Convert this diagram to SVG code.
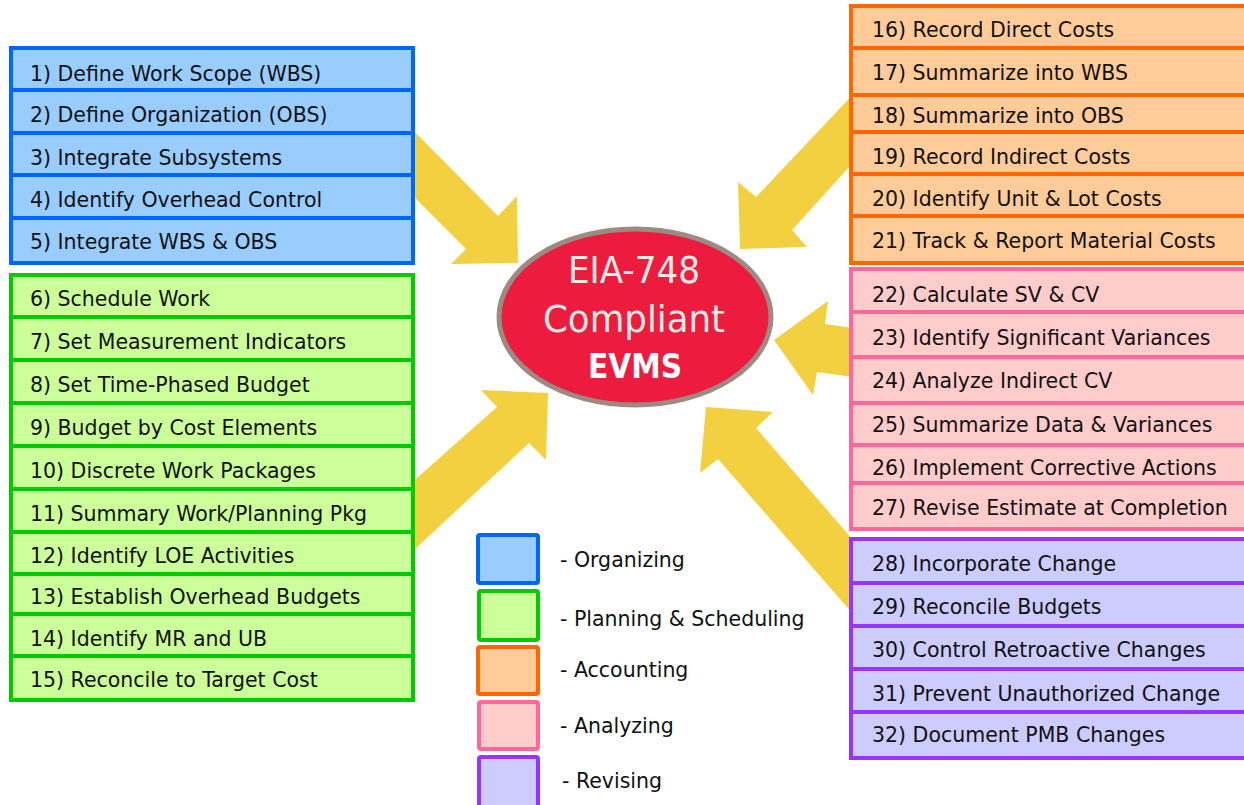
<svg xmlns="http://www.w3.org/2000/svg" width="1244" height="805" viewBox="0 0 1244 805">
  <style>
    text { font-family: "DejaVu Sans", "Liberation Sans", sans-serif; font-size: 20.5px; fill: #111; }
    .arrow { fill: #f2d03f; }
    .org rect { fill: #99ccff; stroke: #0066ff; stroke-width: 4; }
    .plan rect { fill: #ccff99; stroke: #00cc00; stroke-width: 4; }
    .acct rect { fill: #ffcc99; stroke: #ff6600; stroke-width: 4; }
    .anal rect { fill: #ffcccc; stroke: #ff6699; stroke-width: 4; }
    .rev rect { fill: #ccccff; stroke: #9933ff; stroke-width: 4; }
    .key rect { stroke-width: 4; }
    .hub { fill: #ed1b3d; stroke: #9b8b82; stroke-width: 5; }
    .hubtxt { font-size: 38px; fill: #f6ece6; text-anchor: middle; }
  </style>
  <rect width="1244" height="805" fill="#ffffff"/>

  <!-- block arrows feeding the centre -->
  <g id="connectors">
    <polygon class="arrow" points="400,117 498,216 517,196 518,263 451,264 466,249 400,183"/>
    <polygon class="arrow" points="400,493 497,407 481,390 548,393 546,460 529,443 400,563"/>
    <polygon class="arrow" points="860,87 756,197 738,182 740,249 807,247 792,230 860,155"/>
    <polygon class="arrow" points="860,329 825,324 828,301 774,340 813,395 817,372 860,378"/>
    <polygon class="arrow" points="860,548 756,428 773,412 706,407 700,473 718,459 860,622"/>
  </g>

  <!-- centre -->
  <g id="evms">
    <ellipse class="hub" cx="635" cy="317" rx="136" ry="88"/>
    <text class="hubtxt" x="634" y="283" textLength="132" lengthAdjust="spacingAndGlyphs">EIA-748</text>
    <text class="hubtxt" x="634" y="332" textLength="182" lengthAdjust="spacingAndGlyphs">Compliant</text>
    <text class="hubtxt" x="635" y="378" textLength="94" lengthAdjust="spacingAndGlyphs" style="font-weight:bold;font-size:34px;fill:#ffffff">EVMS</text>
  </g>

  <!-- Organizing -->
  <g id="organizing" class="org">
    <rect x="11" y="48" width="402" height="42"/>
    <rect x="11" y="90" width="402" height="43"/>
    <rect x="11" y="133" width="402" height="42"/>
    <rect x="11" y="175" width="402" height="43"/>
    <rect x="11" y="218" width="402" height="45"/>
    <text x="30" y="81">1) Define Work Scope (WBS)</text>
    <text x="30" y="122">2) Define Organization (OBS)</text>
    <text x="30" y="165">3) Integrate Subsystems</text>
    <text x="30" y="207">4) Identify Overhead Control</text>
    <text x="30" y="249">5) Integrate WBS &amp; OBS</text>
  </g>

  <!-- Planning & Scheduling -->
  <g id="planning" class="plan">
    <rect x="11" y="275" width="402" height="42"/>
    <rect x="11" y="317" width="402" height="43"/>
    <rect x="11" y="360" width="402" height="43"/>
    <rect x="11" y="403" width="402" height="43"/>
    <rect x="11" y="446" width="402" height="43"/>
    <rect x="11" y="489" width="402" height="43"/>
    <rect x="11" y="532" width="402" height="42"/>
    <rect x="11" y="574" width="402" height="40"/>
    <rect x="11" y="614" width="402" height="42"/>
    <rect x="11" y="656" width="402" height="44"/>
    <text x="30" y="306">6) Schedule Work</text>
    <text x="30" y="349">7) Set Measurement Indicators</text>
    <text x="30" y="392">8) Set Time-Phased Budget</text>
    <text x="30" y="435">9) Budget by Cost Elements</text>
    <text x="30" y="478">10) Discrete Work Packages</text>
    <text x="30" y="521">11) Summary Work/Planning Pkg</text>
    <text x="30" y="563">12) Identify LOE Activities</text>
    <text x="30" y="604">13) Establish Overhead Budgets</text>
    <text x="30" y="646">14) Identify MR and UB</text>
    <text x="30" y="687">15) Reconcile to Target Cost</text>
  </g>

  <!-- Accounting -->
  <g id="accounting" class="acct">
    <rect x="851" y="6" width="400" height="42"/>
    <rect x="851" y="48" width="400" height="47"/>
    <rect x="851" y="95" width="400" height="37"/>
    <rect x="851" y="132" width="400" height="42"/>
    <rect x="851" y="174" width="400" height="42"/>
    <rect x="851" y="216" width="400" height="47"/>
    <text x="872" y="37">16) Record Direct Costs</text>
    <text x="872" y="80">17) Summarize into WBS</text>
    <text x="872" y="123">18) Summarize into OBS</text>
    <text x="872" y="164">19) Record Indirect Costs</text>
    <text x="872" y="206">20) Identify Unit &amp; Lot Costs</text>
    <text x="872" y="248">21) Track &amp; Report Material Costs</text>
  </g>

  <!-- Analyzing -->
  <g id="analyzing" class="anal">
    <rect x="851" y="269" width="400" height="43"/>
    <rect x="851" y="312" width="400" height="45"/>
    <rect x="851" y="357" width="400" height="46"/>
    <rect x="851" y="403" width="400" height="42"/>
    <rect x="851" y="445" width="400" height="38"/>
    <rect x="851" y="483" width="400" height="46"/>
    <text x="872" y="302">22) Calculate SV &amp; CV</text>
    <text x="872" y="345">23) Identify Significant Variances</text>
    <text x="872" y="388">24) Analyze Indirect CV</text>
    <text x="872" y="432">25) Summarize Data &amp; Variances</text>
    <text x="872" y="475">26) Implement Corrective Actions</text>
    <text x="872" y="515">27) Revise Estimate at Completion</text>
  </g>

  <!-- Revising -->
  <g id="revising" class="rev">
    <rect x="851" y="539" width="400" height="44"/>
    <rect x="851" y="583" width="400" height="43"/>
    <rect x="851" y="626" width="400" height="43"/>
    <rect x="851" y="669" width="400" height="43"/>
    <rect x="851" y="712" width="400" height="46"/>
    <text x="872" y="571">28) Incorporate Change</text>
    <text x="872" y="614">29) Reconcile Budgets</text>
    <text x="872" y="657">30) Control Retroactive Changes</text>
    <text x="872" y="701">31) Prevent Unauthorized Change</text>
    <text x="872" y="742">32) Document PMB Changes</text>
  </g>

  <!-- Legend -->
  <g id="legend" class="key">
    <rect x="478" y="535" width="60" height="48" rx="2" fill="#99ccff" stroke="#0066ff"/>
    <rect x="479" y="591" width="59" height="49" rx="2" fill="#ccff99" stroke="#00cc00"/>
    <rect x="478" y="647" width="60" height="47" rx="2" fill="#ffcc99" stroke="#ff6600"/>
    <rect x="479" y="702" width="59" height="47" rx="2" fill="#ffcccc" stroke="#ff6699"/>
    <rect x="479" y="757" width="59" height="50" rx="2" fill="#ccccff" stroke="#9933ff"/>
    <text x="560" y="567">- Organizing</text>
    <text x="560" y="626">- Planning &amp; Scheduling</text>
    <text x="560" y="677">- Accounting</text>
    <text x="560" y="733">- Analyzing</text>
    <text x="562" y="788">- Revising</text>
  </g>
</svg>
